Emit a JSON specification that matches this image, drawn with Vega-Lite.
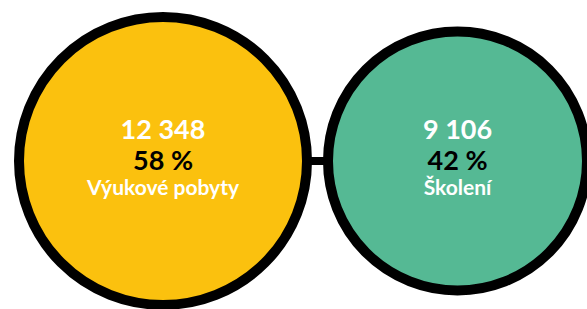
{
  "$schema": "https://vega.github.io/schema/vega-lite/v6.json",
  "width": 587,
  "height": 322,
  "autosize": "none",
  "padding": 0,
  "background": "white",
  "config": {"view": {"stroke": null}},
  "data": {
    "values": [
      {"category": "Výukové pobyty", "count": 12348, "countLabel": "12 348", "share": "58 %"},
      {"category": "Školení", "count": 9106, "countLabel": "9 106", "share": "42 %"}
    ]
  },
  "encoding": {
    "x": {"field": "category", "type": "nominal", "sort": null, "scale": {"type": "point", "padding": 0, "range": [163, 457.5]}, "axis": null},
    "y": {"datum": 0, "type": "quantitative", "scale": {"domain": [-1, 1]}, "axis": null}
  },
  "layer": [
    {
      "mark": {"type": "rule", "stroke": "black", "strokeWidth": 8},
      "encoding": {
        "x": {"datum": "Výukové pobyty", "type": "nominal", "scale": {"type": "point", "padding": 0, "range": [163, 457.5]}, "axis": null},
        "x2": {"datum": "Školení"},
        "y": {"datum": 0, "type": "quantitative", "scale": {"domain": [-1, 1]}, "axis": null}
      }
    },
    {
      "mark": {"type": "point", "shape": "circle", "filled": true, "stroke": "black", "strokeWidth": 10, "opacity": 1, "fillOpacity": 1, "strokeOpacity": 1},
      "encoding": {
        "size": {"field": "count", "type": "quantitative", "scale": {"domain": [9106, 12348], "range": [67081, 82944]}, "legend": null},
        "fill": {"field": "category", "type": "nominal", "scale": {"domain": ["Výukové pobyty", "Školení"], "range": ["#FBC10E", "#55B994"]}, "legend": null}
      }
    },
    {
      "mark": {"type": "text", "font": "Lato", "fontWeight": "bold", "fontSize": 27, "fill": "white", "baseline": "middle", "align": "center", "dy": -30},
      "encoding": {"text": {"field": "countLabel"}}
    },
    {
      "mark": {"type": "text", "font": "Lato", "fontWeight": "bold", "fontSize": 27, "fill": "black", "baseline": "middle", "align": "center", "dy": 1},
      "encoding": {"text": {"field": "share"}}
    },
    {
      "mark": {"type": "text", "font": "Lato", "fontWeight": "bold", "fontSize": 21, "fill": "white", "baseline": "middle", "align": "center", "dy": 28},
      "encoding": {"text": {"field": "category"}}
    }
  ]
}
